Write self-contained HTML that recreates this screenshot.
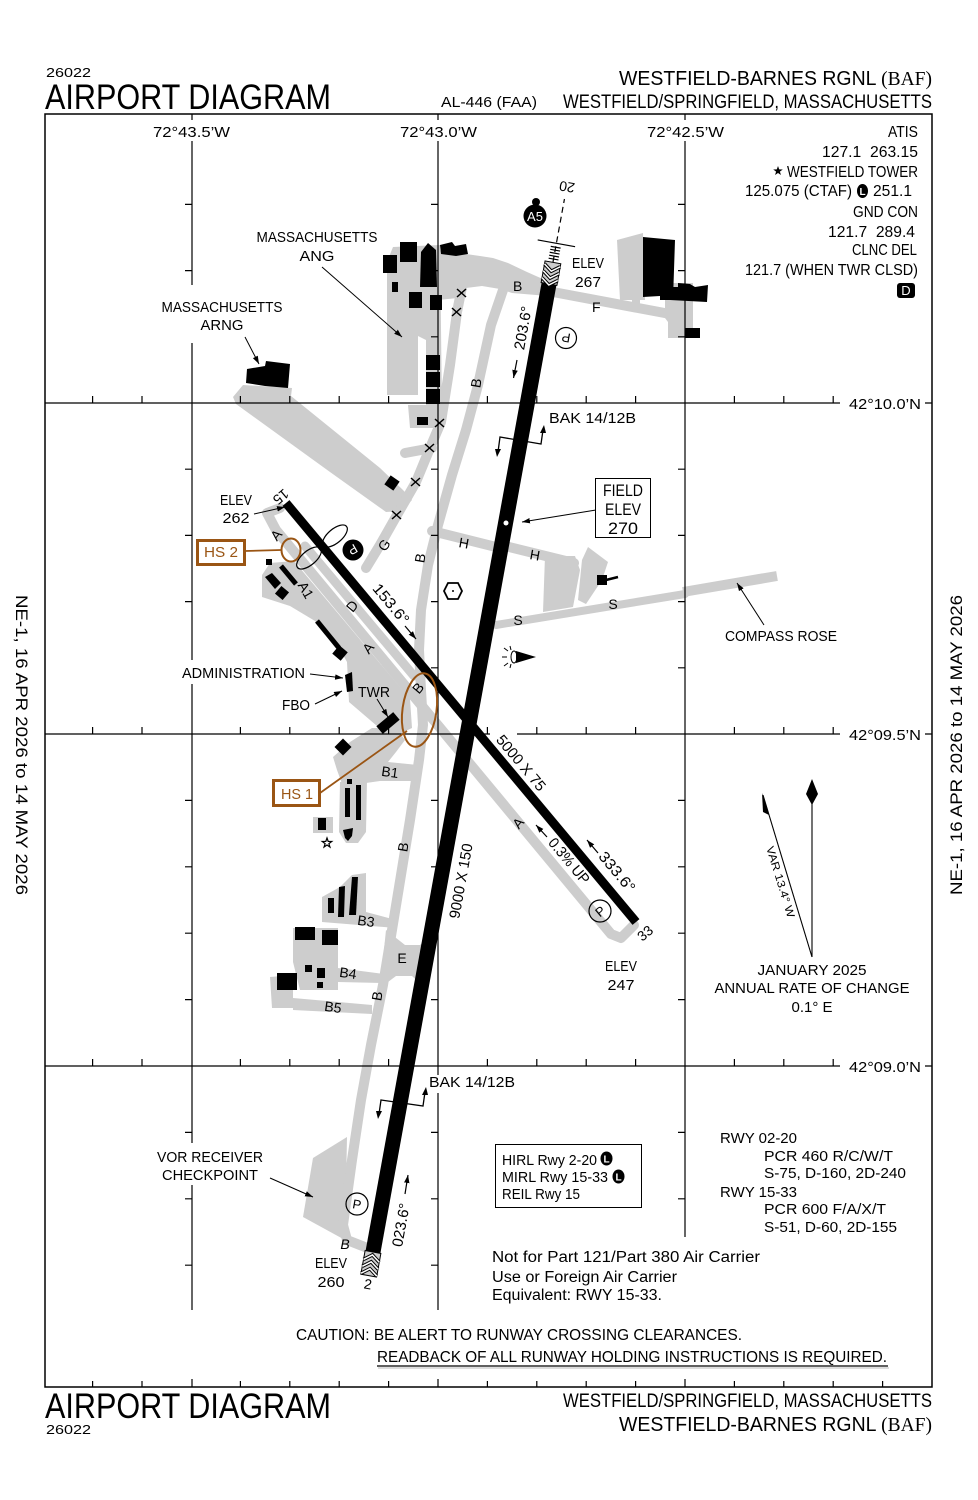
<!DOCTYPE html>
<html><head><meta charset="utf-8"><title>Airport Diagram</title>
<style>html,body{margin:0;padding:0;background:#fff}svg{display:block}text{font-family:"Liberation Sans","DejaVu Sans",sans-serif;fill:#000}</style></head>
<body>
<svg xmlns="http://www.w3.org/2000/svg" width="978" height="1500" viewBox="0 0 978 1500">
<defs><marker id="ah" markerWidth="9" markerHeight="6" refX="8" refY="2.75" orient="auto" markerUnits="userSpaceOnUse"><path d="M0,0 L8,2.75 L0,5.5 z" fill="#000"/></marker></defs>
<rect width="978" height="1500" fill="#fff"/>

<!-- HEADER -->
<text x="46" y="77" font-size="13" textLength="45" lengthAdjust="spacingAndGlyphs">26022</text>
<text x="45" y="109" font-size="35" textLength="286" lengthAdjust="spacingAndGlyphs">AIRPORT DIAGRAM</text>
<text x="441" y="107" font-size="15" textLength="96" lengthAdjust="spacingAndGlyphs">AL-446 (FAA)</text>
<text x="619" y="85" font-size="20" textLength="313" lengthAdjust="spacingAndGlyphs">WESTFIELD-BARNES RGNL <tspan font-family="Liberation Serif, serif">(BAF)</tspan></text>
<text x="563" y="108" font-size="19" textLength="369" lengthAdjust="spacingAndGlyphs">WESTFIELD/SPRINGFIELD, MASSACHUSETTS</text>

<!-- FOOTER -->
<text x="45" y="1418" font-size="35" textLength="286" lengthAdjust="spacingAndGlyphs">AIRPORT DIAGRAM</text>
<text x="46" y="1434" font-size="13" textLength="45" lengthAdjust="spacingAndGlyphs">26022</text>
<text x="563" y="1407" font-size="19" textLength="369" lengthAdjust="spacingAndGlyphs">WESTFIELD/SPRINGFIELD, MASSACHUSETTS</text>
<text x="619" y="1431" font-size="20" textLength="313" lengthAdjust="spacingAndGlyphs">WESTFIELD-BARNES RGNL <tspan font-family="Liberation Serif, serif">(BAF)</tspan></text>

<!-- SIDE TEXT -->
<text transform="translate(16,595) rotate(90)" font-size="17" textLength="300" lengthAdjust="spacingAndGlyphs">NE-1, 16 APR 2026 to 14 MAY 2026</text>
<text transform="translate(962,895) rotate(-90)" font-size="17" textLength="300" lengthAdjust="spacingAndGlyphs">NE-1, 16 APR 2026 to 14 MAY 2026</text>

<!-- GRAY PAVEMENT -->
<g fill="#cdcdcd" stroke="none">
<polygon points="233,397 243,385 292,388 291,396 380,468 403,490 412,500 402,511 386,512 330,472 236,404"/>
<polygon points="387,262 393,247 440,245 442,410 426,410 426,340 418,336 418,395 387,395"/>
<polygon points="408,405 442,405 442,428 410,428"/>
<polygon points="438,250 480,256 493,258 508,263 527,272 545,280 548,296 512,293 500,289 482,286 466,288 458,298 438,300"/>
<polygon points="617,240 643,233 645,300 640,300 640,312 632,312 632,300 620,300"/>
<polygon points="665,283 693,283 693,338 668,338 668,322 665,318"/>
<polygon points="545,556 575,556 580,570 573,607 543,612"/>
<polygon points="588,547 608,562 602,580 586,604 578,600 582,560"/>
<polygon points="270,563 262,575 262,597 290,606 315,621 337,644 347,662 349,702 377,726 395,736 412,728 410,699 294,561"/>
<polygon points="350,742 372,728 396,728 405,740 396,752 388,762 418,765 420,781 380,781 366,783 362,792 345,792 337,770 333,757"/>
<polygon points="340,782 367,780 366,832 358,843 346,843 339,832"/>
<polygon points="313,817 333,817 333,833 313,833"/>
<polygon points="322,897 340,887 352,875 366,873 366,912 396,920 396,928 322,922"/>
<polygon points="293,928 338,928 338,968 384,974 384,983 338,982 338,990 300,990 293,962"/>
<polygon points="270,977 293,975 293,998 372,1005 372,1014 293,1010 293,1008 272,1008"/>
<polygon points="386,930 405,945 420,945 428,938 425,988 412,976 396,976 380,988"/>
<polygon points="313,1158 347,1137 345,1240 303,1217"/>
</g>
<g fill="none" stroke="#cdcdcd" stroke-linejoin="round" stroke-linecap="round">
<polyline stroke-width="10" points="553,292 670,314"/>
<polyline stroke-width="10" points="432,531 500,548"/>
<polyline stroke-width="10" points="505,546 574,563"/>
<polyline stroke-width="8" points="496,625 685,594"/>
<polyline stroke-width="10" stroke-linecap="butt" points="683,592 777,576"/>
<polyline stroke-width="10" points="405,453 432,448"/>
<polyline stroke-width="10" points="462,287 457,312 450,365 441,422 430,448 416,482 397,515 380,545 366,568"/>
<polyline stroke-width="10" points="503,290 491,325 478,385 466,430 452,475 438,525 428,565 421,610 419,650 421,690 423,725 419,760 410,820 401,875 392,930 383,985 371,1045 361,1100 352,1160 343,1225 347,1240 370,1249"/>
<polyline stroke-width="10" points="280,508 267,513 276,530 611,934 621,938 634,925"/>
<polyline stroke-width="9" points="305,546 414,676"/>
</g>

<!-- GRID -->
<g stroke="#000" stroke-width="1.2" fill="none">
<rect x="45" y="114" width="887" height="1273" stroke-width="1.5"/>
<path d="M192,141V285M192,343V660M192,684V1143M192,1185V1310M438,141V1075M438,1093V1310M685,141V1237M45,403H840M925,403H932M45,734H490M517,734H840M925,734H932M45,1066H840M925,1066H932M192,114V120M438,114V120M685,114V120"/>
<path d="M185,204.4h7M185,270.6h7M185,469.2h7M185,535.4h7M185,601.6h7M185,800.4h7M185,866.8h7M185,933.2h7M185,999.6h7M185,1132.4h7M185,1198.8h7M185,1265.2h7"/>
<path d="M431,204.4h7M431,270.6h7M431,336.8h7M431,469.2h7M431,535.4h7M431,601.6h7M431,667.8h7M431,800.4h7M431,866.8h7M431,933.2h7M431,999.6h7M431,1132.4h7M431,1198.8h7M431,1265.2h7"/>
<path d="M678,204.4h7M678,270.6h7M678,336.8h7M678,469.2h7M678,535.4h7M678,601.6h7M678,667.8h7M678,800.4h7M678,866.8h7M678,933.2h7M678,999.6h7M678,1132.4h7M678,1198.8h7"/>
<path d="M92.6,403v-7M142,403v-7M240.4,403v-7M289.8,403v-7M339.2,403v-7M388.6,403v-7M487.4,403v-7M536.8,403v-7M586.2,403v-7M635.6,403v-7M734.4,403v-7M783.8,403v-7M833.2,403v-7"/>
<path d="M92.6,734v-7M142,734v-7M240.4,734v-7M289.8,734v-7M339.2,734v-7M388.6,734v-7M487.4,734v-7M536.8,734v-7M586.2,734v-7M635.6,734v-7M734.4,734v-7M783.8,734v-7M833.2,734v-7"/>
<path d="M92.6,1066v-7M142,1066v-7M240.4,1066v-7M289.8,1066v-7M339.2,1066v-7M388.6,1066v-7M487.4,1066v-7M536.8,1066v-7M586.2,1066v-7M635.6,1066v-7M734.4,1066v-7M783.8,1066v-7M833.2,1066v-7"/>
<path d="M92.6,1387v-6M142,1387v-6M240.4,1387v-6M289.8,1387v-6M339.2,1387v-6M388.6,1387v-6M487.4,1387v-6M536.8,1387v-6M586.2,1387v-6M635.6,1387v-6M734.4,1387v-6M783.8,1387v-6M833.2,1387v-6M882.6,1387v-6M192,1387v-8M438,1387v-8M685,1387v-8"/>
</g>

<!-- GRID LABELS -->
<g font-size="15">
<text x="153" y="137" textLength="77" lengthAdjust="spacingAndGlyphs">72°43.5’W</text>
<text x="400" y="137" textLength="77" lengthAdjust="spacingAndGlyphs">72°43.0’W</text>
<text x="647" y="137" textLength="77" lengthAdjust="spacingAndGlyphs">72°42.5’W</text>
<text x="849" y="409" textLength="72" lengthAdjust="spacingAndGlyphs">42°10.0’N</text>
<text x="849" y="740" textLength="72" lengthAdjust="spacingAndGlyphs">42°09.5’N</text>
<text x="849" y="1072" textLength="72" lengthAdjust="spacingAndGlyphs">42°09.0’N</text>
</g>

<!-- BUILDINGS -->
<g fill="#000">
<rect x="383" y="255" width="14" height="18"/>
<rect x="400" y="242" width="17" height="20"/>
<polygon points="421,252 428,243 436,250 437,287 420,287"/>
<polygon points="440,245 452,242 455,246 466,244 468,254 456,256 441,254"/>
<rect x="392" y="282" width="6" height="10"/>
<rect x="409" y="292" width="13" height="16"/>
<rect x="430" y="295" width="12" height="15"/>
<rect x="426" y="355" width="14" height="15"/>
<rect x="426" y="372" width="14" height="15"/>
<rect x="426" y="389" width="14" height="15"/>
<rect x="417" y="417" width="11" height="8"/>
<polygon points="247,369 265,366 266,361 290,364 288,388 265,386 246,383"/>
<rect x="-5.5" y="-5.5" width="11" height="11" transform="translate(392,483) rotate(35)"/>
<polygon points="643,237 675,240 673,300 660,300 660,296 643,297"/>
<polygon points="670,287 678,287 678,283 690,284 695,287 708,285 707,302 670,300"/>
<rect x="685" y="328" width="15" height="10"/>
<rect x="597" y="575" width="10" height="10"/>
<rect x="266" y="559" width="6" height="6"/>
<polygon points="265,577 272,573 281,583 275,589"/>
<rect x="-5" y="-5" width="10" height="10" transform="translate(282,593) rotate(40)"/>
<rect x="-5.5" y="-5.5" width="11" height="11" transform="translate(340,653) rotate(40)"/>
<polygon points="345,675 352,672 353,691 347,692"/>
<rect x="-11" y="-5" width="22" height="10" transform="translate(388,723) rotate(-40)"/>
<rect x="-6" y="-6" width="12" height="12" transform="translate(343,747) rotate(45)"/>
<rect x="347" y="779" width="5" height="5"/>
<rect x="345" y="788" width="5" height="29"/>
<rect x="356" y="785" width="5" height="35"/>
<polygon points="343,830 353,828 352,836 348,841 345,838"/>
<rect x="318" y="818" width="8" height="12"/>
<rect x="328" y="898" width="6" height="15"/>
<polygon points="339,887 345,886 344,917 338,917"/>
<polygon points="352,877 358,877 356,915 349,915"/>
<rect x="295" y="927" width="20" height="13"/>
<rect x="322" y="930" width="16" height="15"/>
<rect x="305" y="965" width="7" height="7"/>
<rect x="317" y="968" width="8" height="10"/>
<rect x="317" y="982" width="6" height="6"/>
<rect x="277" y="973" width="20" height="17"/>
</g>
<g stroke="#000" fill="none">
<line x1="606" y1="580" x2="618" y2="577" stroke-width="2.5"/>
<line x1="281" y1="566" x2="296" y2="584" stroke-width="5"/>
<line x1="317" y1="621" x2="339" y2="648" stroke-width="5"/>
</g>
<polygon transform="translate(327,843)" points="0,-5 1.18,-1.62 4.76,-1.55 1.9,0.62 2.94,4.05 0,2 -2.94,4.05 -1.9,0.62 -4.76,-1.55 -1.18,-1.62" fill="#fff" stroke="#000" stroke-width="1.2"/>

<!-- RUNWAYS -->
<line x1="549" y1="284" x2="373" y2="1252" stroke="#000" stroke-width="15"/>
<line x1="286" y1="503" x2="636" y2="922" stroke="#000" stroke-width="9"/>
<circle cx="506" cy="523" r="2.5" fill="#fff"/>

<!-- threshold boxes -->
<g transform="translate(549,284) rotate(10.3)">
<rect x="-8" y="-22" width="16" height="22" fill="#cdcdcd" stroke="#000" stroke-width="1"/>
<g fill="none" stroke-linejoin="miter"><polyline points="-8,-19 0,-13 8,-19" stroke="#000" stroke-width="3.5"/><polyline points="-8,-19 0,-13 8,-19" stroke="#fff" stroke-width="1.5"/>
<polyline points="-8,-12 0,-6 8,-12" stroke="#000" stroke-width="3.5"/><polyline points="-8,-12 0,-6 8,-12" stroke="#fff" stroke-width="1.5"/>
<polyline points="-8,-5 0,1 8,-5" stroke="#000" stroke-width="3.5"/><polyline points="-8,-5 0,1 8,-5" stroke="#fff" stroke-width="1.5"/></g>
</g>
<g transform="translate(373,1252) rotate(10.3)">
<rect x="-8" y="0" width="16" height="24" fill="#cdcdcd" stroke="#000" stroke-width="1"/>
<g fill="none"><polyline points="-8,9 0,3 8,9" stroke="#000" stroke-width="3.5"/><polyline points="-8,9 0,3 8,9" stroke="#fff" stroke-width="1.5"/>
<polyline points="-8,16 0,10 8,16" stroke="#000" stroke-width="3.5"/><polyline points="-8,16 0,10 8,16" stroke="#fff" stroke-width="1.5"/>
<polyline points="-8,23 0,17 8,23" stroke="#000" stroke-width="3.5"/><polyline points="-8,23 0,17 8,23" stroke="#fff" stroke-width="1.5"/></g>
</g>
<!-- approach lights -->
<g transform="translate(553,262) rotate(10.3)" stroke="#000" stroke-width="1.2" fill="none">
<line x1="0" y1="0" x2="0" y2="-64" stroke-dasharray="6,4"/>
<line x1="-19" y1="-19" x2="19" y2="-19"/>
<path d="M-5,-3h10M-5,-6h10M-5,-9h10M-5,-12h10M-5,-15h10"/>
</g>
<text transform="translate(567,187) rotate(190)" text-anchor="middle" y="5" font-size="14">20</text>
<text transform="translate(368,1284) rotate(10)" text-anchor="middle" y="5" font-size="14">2</text>
<text transform="translate(281,497) rotate(140)" text-anchor="middle" y="5" font-size="14">15</text>
<text transform="translate(645,933) rotate(-40)" text-anchor="middle" y="5" font-size="14">33</text>

<!-- A5 -->
<circle cx="536" cy="202" r="4" fill="#000"/>
<circle cx="535" cy="216" r="11.5" fill="#000"/>
<text x="535" y="221" text-anchor="middle" font-size="13" fill="#fff" style="fill:#fff">A5</text>

<!-- BAK symbols -->
<g stroke="#000" stroke-width="1.3" fill="none">
<polyline points="498,452 500,437 541,444 543,430"/>
<polyline points="379,1114 381,1100 423,1106 425,1092"/>
</g>
<g fill="#000">
<polygon points="495,449 501,449 497,457"/>
<polygon points="540,433 546,433 544,425"/>
<polygon points="376,1111 382,1111 378,1119"/>
<polygon points="422,1095 428,1095 426,1087"/>
</g>

<!-- X marks -->
<g stroke="#000" stroke-width="1.5">
<path d="M457,289l9,8M466,289l-9,8"/>
<path d="M452,308l9,8M461,308l-9,8"/>
<path d="M435,419l9,8M444,419l-9,8"/>
<path d="M425,444l9,8M434,444l-9,8"/>
<path d="M411,478l9,8M420,478l-9,8"/>
<path d="M392,511l9,8M401,511l-9,8"/>
</g>

<!-- runway labels -->
<g font-size="15">
<text transform="translate(461,881) rotate(-79.7)" text-anchor="middle" y="5" textLength="76" lengthAdjust="spacingAndGlyphs">9000 X 150</text>
<text transform="translate(521,763) rotate(50.1)" text-anchor="middle" y="5" textLength="68" lengthAdjust="spacingAndGlyphs">5000 X 75</text>
<text transform="translate(391,604) rotate(50.1)" text-anchor="middle" y="5" textLength="48" lengthAdjust="spacingAndGlyphs">153.6°</text>
<text transform="translate(617,872) rotate(50.1)" text-anchor="middle" y="5" textLength="48" lengthAdjust="spacingAndGlyphs">333.6°</text>
<text transform="translate(569,861) rotate(50.1)" text-anchor="middle" y="5" textLength="55" lengthAdjust="spacingAndGlyphs">0.3% UP</text>
<text transform="translate(523,328) rotate(-79.7)" text-anchor="middle" y="5" textLength="44" lengthAdjust="spacingAndGlyphs">203.6°</text>
<text transform="translate(401,1225) rotate(-79.7)" text-anchor="middle" y="5" textLength="44" lengthAdjust="spacingAndGlyphs">023.6°</text>
</g>
<g stroke="#000" stroke-width="1.2" marker-end="url(#ah)">
<line x1="517" y1="360" x2="513.5" y2="378"/>
<line x1="405" y1="1194" x2="408" y2="1175"/>
<line x1="405" y1="626" x2="416" y2="639"/>
<line x1="598" y1="853" x2="587" y2="840"/>
<line x1="547" y1="837" x2="536" y2="825"/>
</g>

<!-- taxiway labels -->
<g font-size="14">
<text x="513" y="291">B</text>
<text x="592" y="312">F</text>
<text transform="translate(476,383) rotate(-80)" text-anchor="middle" y="5">B</text>
<text transform="translate(464,543) rotate(10)" text-anchor="middle" y="5">H</text>
<text transform="translate(535,555) rotate(10)" text-anchor="middle" y="5">H</text>
<text x="518" y="625" text-anchor="middle">S</text>
<text x="613" y="609" text-anchor="middle">S</text>
<text transform="translate(384,545) rotate(-55)" text-anchor="middle" y="5">G</text>
<text transform="translate(420,558) rotate(-80)" text-anchor="middle" y="5">B</text>
<text transform="translate(276,535) rotate(-50)" text-anchor="middle" y="5">A</text>
<text transform="translate(306,590) rotate(60)" text-anchor="middle" y="5">A1</text>
<text transform="translate(352,606) rotate(-50)" text-anchor="middle" y="5">D</text>
<text transform="translate(368,648) rotate(-50)" text-anchor="middle" y="5">A</text>
<text transform="translate(418,688) rotate(-50)" text-anchor="middle" y="5">B</text>
<text transform="translate(390,772) rotate(8)" text-anchor="middle" y="5">B1</text>
<text transform="translate(403,847) rotate(-80)" text-anchor="middle" y="5">B</text>
<text transform="translate(366,921) rotate(8)" text-anchor="middle" y="5">B3</text>
<text x="402" y="963" text-anchor="middle">E</text>
<text transform="translate(348,973) rotate(8)" text-anchor="middle" y="5">B4</text>
<text transform="translate(377,996) rotate(-80)" text-anchor="middle" y="5">B</text>
<text transform="translate(333,1007) rotate(8)" text-anchor="middle" y="5">B5</text>
<text x="345" y="1249" text-anchor="middle" font-style="italic">B</text>
<text transform="translate(518,823) rotate(-50)" text-anchor="middle" y="5">A</text>
</g>

<!-- P circles -->
<g fill="none" stroke="#000" stroke-width="1.2">
<circle cx="566" cy="338" r="10.5"/>
<circle cx="600" cy="911" r="11"/>
<circle cx="357" cy="1204" r="11"/>
</g>
<g font-size="13">
<text transform="translate(566,338) rotate(190)" text-anchor="middle" y="5">P</text>
<text transform="translate(600,911) rotate(-40)" text-anchor="middle" y="5">P</text>
<text transform="translate(357,1204) rotate(10)" text-anchor="middle" y="5">P</text>
</g>
<circle cx="353" cy="550" r="10.5" fill="#000"/>
<text transform="translate(353,550) rotate(150)" text-anchor="middle" y="5" font-size="13" style="fill:#fff">P</text>

<!-- figure-8 -->
<g fill="none" stroke="#000" stroke-width="1.2">
<ellipse cx="309" cy="558" rx="15" ry="7" transform="rotate(-40 309 558)"/>
<ellipse cx="335" cy="536" rx="15" ry="7" transform="rotate(-40 335 536)"/>
</g>

<!-- beacon -->
<polygon points="444,591 448,583 458,583 462,591 458,599 448,599" fill="#fff" stroke="#000" stroke-width="1.8"/>
<circle cx="453" cy="591" r="1" fill="#000"/>
<!-- wind cone -->
<g stroke="#000" stroke-width="1" fill="none">
<ellipse cx="514" cy="657" rx="3" ry="6"/>
<path d="M508,651l-4,-3M507,657h-5M508,663l-4,3M511,650l-1,-4M511,664l-1,4"/>
</g>
<polygon points="516,651 536,657 516,663" fill="#000"/>

<!-- hot spots -->
<g stroke="#9a5514" fill="none">
<rect x="197.5" y="540.5" width="47" height="24" stroke-width="3"/>
<line x1="245" y1="551" x2="281" y2="550" stroke-width="1.8"/>
<ellipse cx="291" cy="550" rx="9.5" ry="11.5" stroke-width="2"/>
<rect x="273.5" y="780.5" width="46" height="25" stroke-width="3"/>
<line x1="320" y1="793" x2="407" y2="731" stroke-width="1.8"/>
<ellipse cx="419.5" cy="710" rx="17" ry="37" stroke-width="2" transform="rotate(8 419.5 710)"/>
</g>
<text x="221" y="557" text-anchor="middle" font-size="15" textLength="34" lengthAdjust="spacingAndGlyphs" style="fill:#9a5514">HS 2</text>
<text x="297" y="799" text-anchor="middle" font-size="15" textLength="32" lengthAdjust="spacingAndGlyphs" style="fill:#9a5514">HS 1</text>

<!-- leaders -->
<g stroke="#000" stroke-width="1" marker-end="url(#ah)">
<line x1="322" y1="267" x2="402" y2="337"/>
<line x1="245" y1="337" x2="259" y2="364"/>
<line x1="254" y1="514" x2="285" y2="507"/>
<line x1="596" y1="510" x2="522" y2="522"/>
<line x1="310" y1="674" x2="343" y2="678"/>
<line x1="315" y1="704" x2="342" y2="691"/>
<line x1="377" y1="699" x2="388" y2="717"/>
<line x1="764" y1="625" x2="737" y2="583"/>
<line x1="270" y1="1178" x2="313" y2="1197"/>
</g>

<!-- labels -->
<g font-size="15">
<text x="317" y="242" text-anchor="middle" textLength="121" lengthAdjust="spacingAndGlyphs">MASSACHUSETTS</text>
<text x="317" y="261" text-anchor="middle" textLength="35" lengthAdjust="spacingAndGlyphs">ANG</text>
<text x="222" y="312" text-anchor="middle" textLength="121" lengthAdjust="spacingAndGlyphs">MASSACHUSETTS</text>
<text x="222" y="330" text-anchor="middle" textLength="43" lengthAdjust="spacingAndGlyphs">ARNG</text>
<text x="588" y="268" text-anchor="middle" textLength="32" lengthAdjust="spacingAndGlyphs">ELEV</text>
<text x="588" y="287" text-anchor="middle" textLength="26" lengthAdjust="spacingAndGlyphs">267</text>
<text x="236" y="505" text-anchor="middle" textLength="32" lengthAdjust="spacingAndGlyphs">ELEV</text>
<text x="236" y="523" text-anchor="middle" textLength="27" lengthAdjust="spacingAndGlyphs">262</text>
<text x="331" y="1268" text-anchor="middle" textLength="32" lengthAdjust="spacingAndGlyphs">ELEV</text>
<text x="331" y="1287" text-anchor="middle" textLength="27" lengthAdjust="spacingAndGlyphs">260</text>
<text x="621" y="971" text-anchor="middle" textLength="32" lengthAdjust="spacingAndGlyphs">ELEV</text>
<text x="621" y="990" text-anchor="middle" textLength="27" lengthAdjust="spacingAndGlyphs">247</text>
<text x="549" y="423" textLength="87" lengthAdjust="spacingAndGlyphs">BAK 14/12B</text>
<text x="429" y="1087" textLength="86" lengthAdjust="spacingAndGlyphs">BAK 14/12B</text>
<text x="725" y="641" textLength="112" lengthAdjust="spacingAndGlyphs">COMPASS ROSE</text>
<text x="182" y="678" textLength="123" lengthAdjust="spacingAndGlyphs">ADMINISTRATION</text>
<text x="282" y="710" textLength="28" lengthAdjust="spacingAndGlyphs">FBO</text>
<text x="358" y="697" textLength="32" lengthAdjust="spacingAndGlyphs">TWR</text>
<text x="210" y="1162" text-anchor="middle" textLength="106" lengthAdjust="spacingAndGlyphs">VOR RECEIVER</text>
<text x="210" y="1180" text-anchor="middle" textLength="96" lengthAdjust="spacingAndGlyphs">CHECKPOINT</text>
<text x="812" y="975" text-anchor="middle" textLength="109" lengthAdjust="spacingAndGlyphs">JANUARY 2025</text>
<text x="812" y="993" text-anchor="middle" textLength="195" lengthAdjust="spacingAndGlyphs">ANNUAL RATE OF CHANGE</text>
<text x="812" y="1012" text-anchor="middle" textLength="41" lengthAdjust="spacingAndGlyphs">0.1° E</text>
</g>

<!-- field elev box -->
<rect x="595.5" y="478.5" width="55" height="59" fill="#fff" stroke="#000" stroke-width="1"/>
<g font-size="17" text-anchor="middle">
<text x="623" y="496" textLength="40" lengthAdjust="spacingAndGlyphs">FIELD</text>
<text x="623" y="515" textLength="36" lengthAdjust="spacingAndGlyphs">ELEV</text>
<text x="623" y="534" textLength="30" lengthAdjust="spacingAndGlyphs">270</text>
</g>

<!-- magnetic variation -->
<g stroke="#000" stroke-width="1.1" fill="none">
<line x1="812" y1="957" x2="812" y2="800"/>
<line x1="812" y1="957" x2="763" y2="795"/>
</g>
<polygon points="812,779 818,794 812,805 806,794" fill="#000"/>
<polygon points="762,793 769,815 763,812" fill="#000"/>
<text transform="translate(777,883) rotate(73)" text-anchor="middle" font-size="11" textLength="74" lengthAdjust="spacingAndGlyphs">VAR 13.4° W</text>

<!-- ATIS block -->
<g font-size="15.5">
<text x="888" y="137" textLength="30" lengthAdjust="spacingAndGlyphs">ATIS</text>
<text x="822" y="157" textLength="96" lengthAdjust="spacingAndGlyphs">127.1 &#160;263.15</text>
<text x="787" y="177" textLength="131" lengthAdjust="spacingAndGlyphs">WESTFIELD TOWER</text>
<text x="745" y="196" textLength="107" lengthAdjust="spacingAndGlyphs">125.075 (CTAF)</text>
<text x="873" y="196" textLength="39" lengthAdjust="spacingAndGlyphs">251.1</text>
<text x="853" y="217" textLength="65" lengthAdjust="spacingAndGlyphs">GND CON</text>
<text x="828" y="237" textLength="87" lengthAdjust="spacingAndGlyphs">121.7 &#160;289.4</text>
<text x="852" y="255" textLength="65" lengthAdjust="spacingAndGlyphs">CLNC DEL</text>
<text x="745" y="275" textLength="173" lengthAdjust="spacingAndGlyphs">121.7 (WHEN TWR CLSD)</text>
</g>
<polygon transform="translate(778,171)" points="0,-5 1.18,-1.62 4.76,-1.55 1.9,0.62 2.94,4.05 0,2 -2.94,4.05 -1.9,0.62 -4.76,-1.55 -1.18,-1.62" fill="#000"/>
<ellipse cx="862.5" cy="191" rx="5.5" ry="7" fill="#000"/>
<text x="862.5" y="195" text-anchor="middle" font-size="10" font-weight="bold" style="fill:#fff">L</text>
<rect x="897" y="283" width="18" height="15" rx="3" fill="#000"/>
<text x="906" y="295" text-anchor="middle" font-size="13" style="fill:#fff">D</text>

<!-- lighting box -->
<rect x="495.5" y="1144.5" width="146" height="63" fill="#fff" stroke="#000" stroke-width="1"/>
<g font-size="14.5">
<text x="502" y="1165" textLength="95" lengthAdjust="spacingAndGlyphs">HIRL Rwy 2-20</text>
<text x="502" y="1182" textLength="106" lengthAdjust="spacingAndGlyphs">MIRL Rwy 15-33</text>
<text x="502" y="1199" textLength="78" lengthAdjust="spacingAndGlyphs">REIL Rwy 15</text>
</g>
<ellipse cx="606.5" cy="1158.5" rx="6" ry="7" fill="#000"/>
<text x="606.5" y="1162.5" text-anchor="middle" font-size="10" font-weight="bold" style="fill:#fff">L</text>
<ellipse cx="618.5" cy="1176.5" rx="6" ry="7" fill="#000"/>
<text x="618.5" y="1180.5" text-anchor="middle" font-size="10" font-weight="bold" style="fill:#fff">L</text>

<!-- RWY PCR block -->
<g font-size="14.5">
<text x="720" y="1143" textLength="77" lengthAdjust="spacingAndGlyphs">RWY 02-20</text>
<text x="764" y="1161" textLength="129" lengthAdjust="spacingAndGlyphs">PCR 460 R/C/W/T</text>
<text x="764" y="1178" textLength="142" lengthAdjust="spacingAndGlyphs">S-75, D-160, 2D-240</text>
<text x="720" y="1197" textLength="77" lengthAdjust="spacingAndGlyphs">RWY 15-33</text>
<text x="764" y="1214" textLength="122" lengthAdjust="spacingAndGlyphs">PCR 600 F/A/X/T</text>
<text x="764" y="1232" textLength="133" lengthAdjust="spacingAndGlyphs">S-51, D-60, 2D-155</text>
</g>

<!-- notes -->
<g font-size="15.5">
<text x="492" y="1262" textLength="268" lengthAdjust="spacingAndGlyphs">Not for Part 121/Part 380 Air Carrier</text>
<text x="492" y="1282" textLength="185" lengthAdjust="spacingAndGlyphs">Use or Foreign Air Carrier</text>
<text x="492" y="1300" textLength="170" lengthAdjust="spacingAndGlyphs">Equivalent: RWY 15-33.</text>
</g>
<g font-size="16">
<text x="296" y="1340" textLength="446" lengthAdjust="spacingAndGlyphs">CAUTION: BE ALERT TO RUNWAY CROSSING CLEARANCES.</text>
<text x="377" y="1362" textLength="510" lengthAdjust="spacingAndGlyphs">READBACK OF ALL RUNWAY HOLDING INSTRUCTIONS IS REQUIRED.</text>
</g>
<line x1="377" y1="1366" x2="888" y2="1366" stroke="#000" stroke-width="1.2"/>
<line x1="378" y1="1368" x2="889" y2="1368" stroke="#bbb" stroke-width="1"/>
</svg>
</body></html>
